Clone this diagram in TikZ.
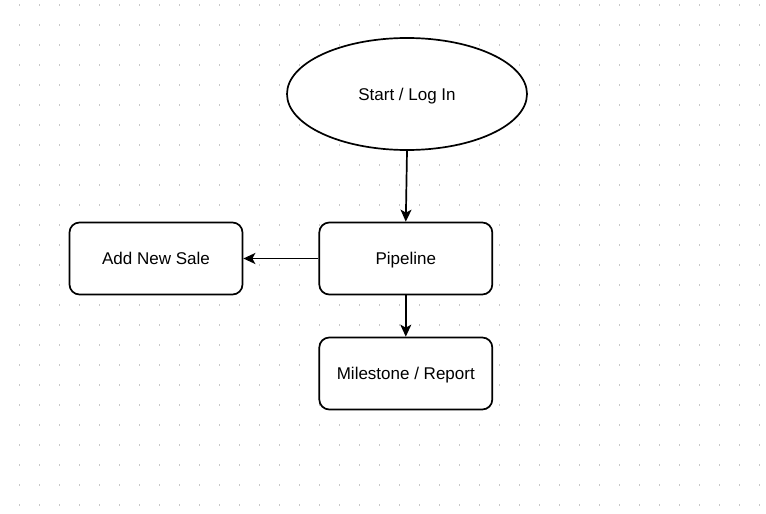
\documentclass[tikz,border=0pt]{standalone}
\usepackage{fontspec}
\setmainfont{Liberation Sans}
\usetikzlibrary{shapes.geometric,arrows.meta}
\definecolor{dotgray}{HTML}{C8C8C8}
\tikzset{
  lbl/.style={font=\fontsize{17}{20}\selectfont, text height=12.2pt, text depth=0pt},
  box/.style={lbl, draw=black, fill=white, line width=1.7pt, rounded corners=10pt,
    minimum width=173pt, minimum height=72pt, inner sep=0pt},
  oval/.style={lbl, draw=black, fill=white, line width=1.7pt, ellipse,
    minimum width=240pt, minimum height=112pt, inner sep=0pt},
  conn/.style={line width=1.7pt, -{Stealth[length=12pt,width=11pt,inset=3pt]}},
}
\begin{document}
\begin{tikzpicture}[x=1pt,y=-1pt]
\useasboundingbox (0,0) rectangle (766,514);
\fill[white] (0,0) rectangle (766,514);
\foreach \i in {-1,...,37}{
  \foreach \j in {0,...,25}{
    \fill[dotgray] ({19.5+20*\i-0.8},{5+20*\j-0.8}) rectangle ++(1.6,1.6);
  }
}
\node[oval] (start) at (407,94) {Start / Log In};
\node[box] (pipe) at (405.8,258.5) {Pipeline};
\node[box] (add) at (156,258.5) {Add New Sale};
\node[box] (mile) at (405.8,373.5) {Milestone / Report};
\draw[conn] (start.south) -- (pipe.north);
\draw[conn] (pipe.west) -- (add.east);
\draw[conn] (pipe.south) -- (mile.north);
\end{tikzpicture}
\end{document}
